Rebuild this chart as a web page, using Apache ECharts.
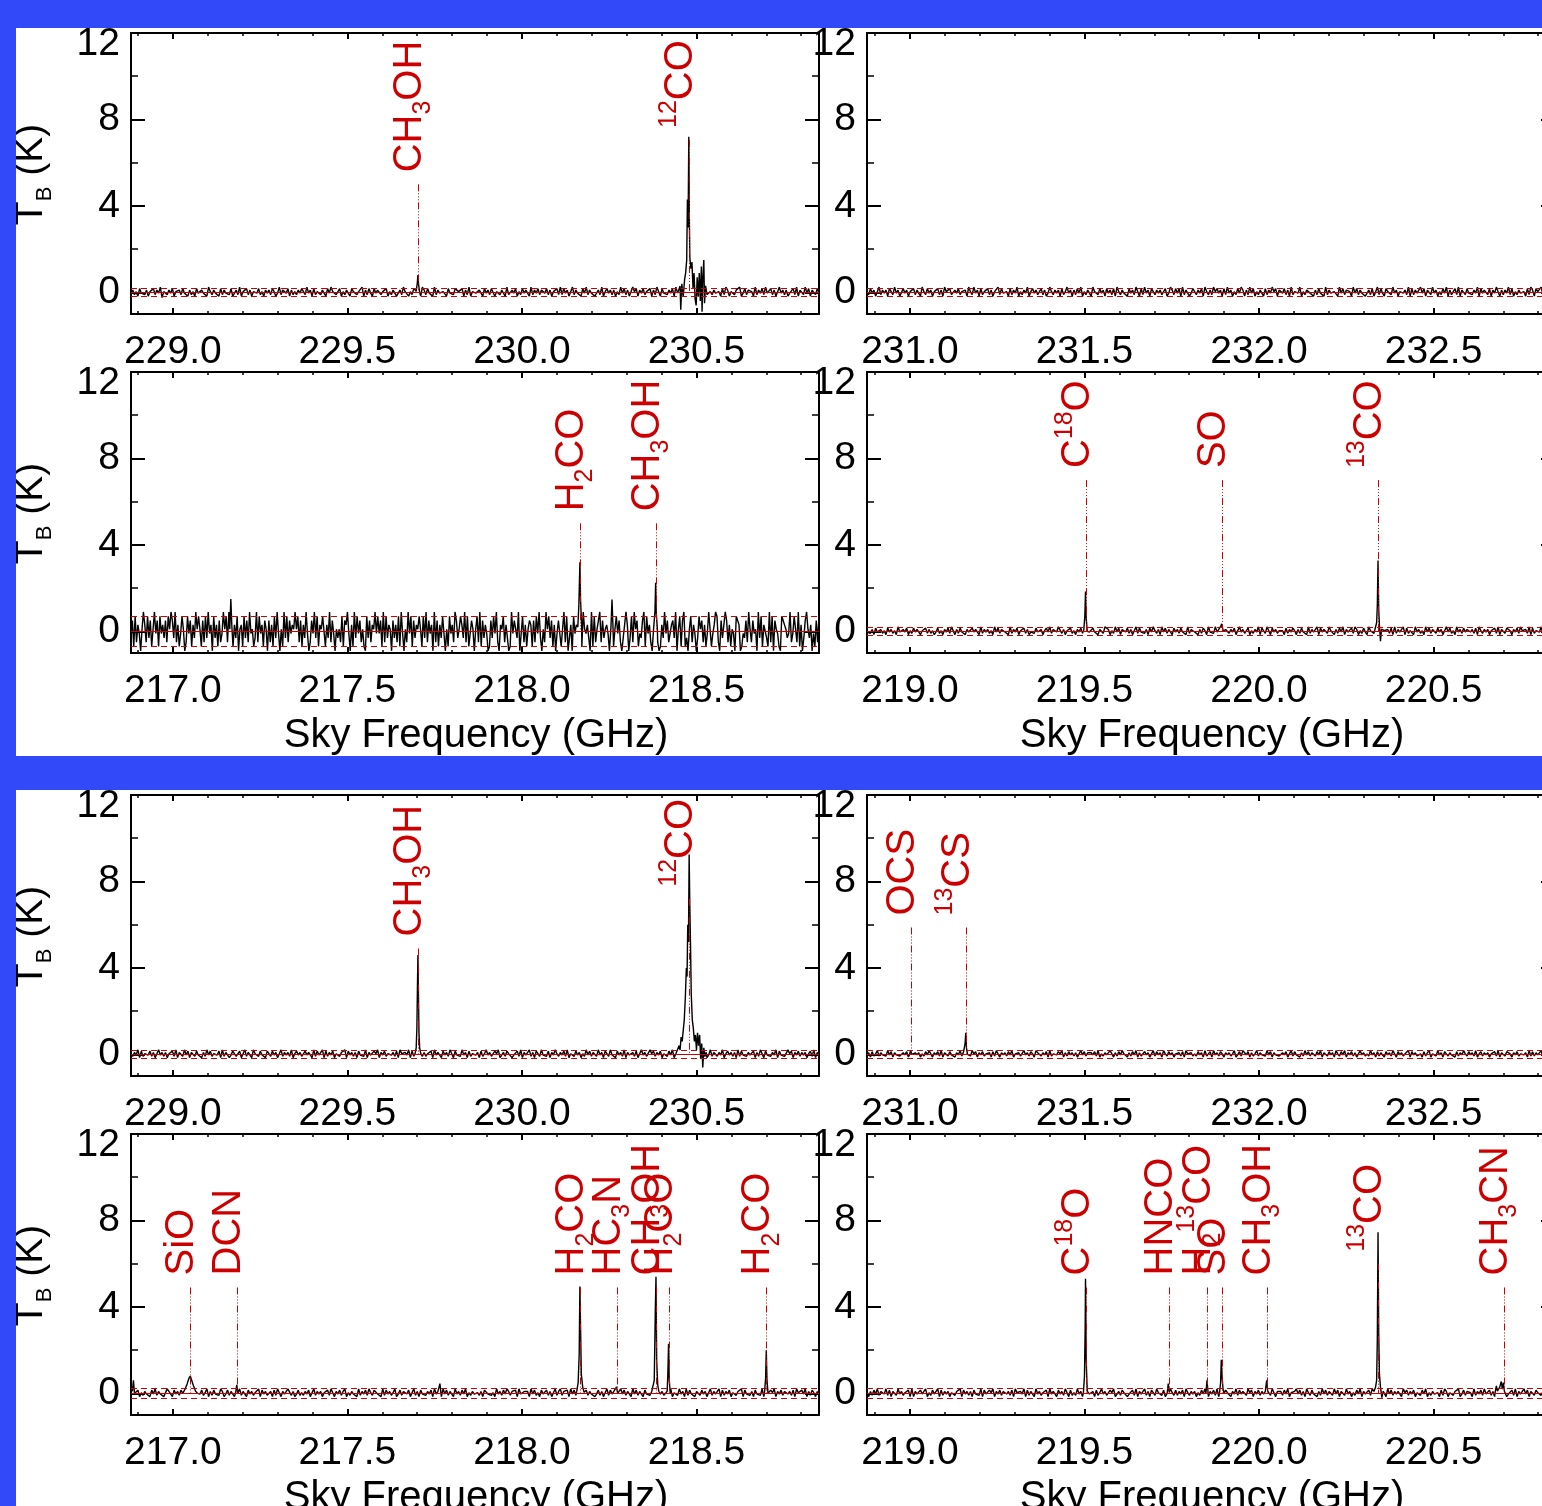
<!DOCTYPE html>
<html><head><meta charset="utf-8">
<script src="https://cdn.jsdelivr.net/npm/echarts@6/dist/echarts.min.js"></script>
<style>html,body{margin:0;padding:0;background:#fff}#c{width:1542px;height:1506px}</style>
</head><body><div id="c"></div>
<script>
// ---------------- DATA ----------------
// spectral windows (GHz): start of each window, common span
const windowStart = [228.880, 230.877, 216.880, 218.877];
const windowSpan = 1.971;
// panel order: A-229, A-231, A-217, A-219, B-229, B-231, B-217, B-219
const panelWindow = [0, 1, 2, 3, 0, 1, 2, 3];
const yRange = [-1, 12];

// baseline noise, one digit per channel (value = (digit-4.5)*noiseScale)
const noiseA229 = "4635274536254736481553647254637452635274364528536452736453724638254736256473526463752483654726353647538462735436527485634725364275635482637427465354725367246385425376452863745283643562745376547263825443652746377254365283364725374652836473654736254738" +
  "374625836452748364524638257463625384736238572647354726385274536472845328463752646374825364452738625436582473655283647384473625846362457382653847265374";
const noiseA231 = "5374625836462753846237462547366285374625473628547326473546285384627354736254837445273648253648257463573624853646273584626374825364285637462746372853645274638527384627536463572486374728365247536472853638574627384625374862638472536427364857265473628354" +
  "482536745263745283643562847365528473645246372583742756384625546382736438472653846253748263473826537453648274653726485263648372536445273862755836274654";
const noiseA217 = "3718264059628371594718463728597392614850284716395851728394608361724958294716380561837294513928461750726183940519382746595827163940274938165881639274053528176940619384725108372659484719283650736281940529481736585183927460927163840518462973586392814750" +
  "5829173640173849206582630194753904826157617284930529583716047415928036084627319546309182579273564018158472036960382957143791846205852016394724673905817913058264038572614951469820733972615408860143729527450938166319280754108765349248529160379536041728";
const noiseA219 = "4536274563527463528436472537466254736352473526473852637452643746528364635284736545283647255736245374362574836548736254735264738264374526538762538472654736258374536274853628473652746374528365452637528453846273653647258463472536482763852746354527364752" +
  "637452836438274653855263748264473862537428563748255463728364482735628463528473653746258473528463746546372853646254738265378526473854638273564826375264";
const noiseB229 = "5364827354473625846362547382653847265374526384735647283652476347258364285637452753746258364638257463374652837458273647254365827463627453826437582647355463728546482736528363547284652746385274538462735446273584633758246375624573826448362753845372648536" +
  "473825637462538473653846275384527463826446372584632857364725637482536345283762545736248365364825746362837453644726385274536482745338572647364625738264";
const noiseB231 = "4627358364538472645336472853646253748526473826537452648374653857264735462738526463748254632846375286536472835447582637463625847365647382536448526374855263748263374625837462853746254637285463537462835728463752646358247386472635836453847264533647258374" +
  "526384736537482653746285374826473625846353846273652746385274635482746345273682543846275364527364853746382573646254738265378526473554628373644827365284";
const noiseB217 = "8463725364527483645238652746376247358264473582637453862473652748365274635482746346273852645873624735364725836462547385264736825364528364738537645283746358247365472583627453647284632847365284637482536445362784535284637486365728436562847352744736258368" +
  "365728473652847364524736258374625384736528473652745364728463473825638462837452653746258364582736472543658274536274538264375826473654637285474826375263";
const noiseB219 = "5263748365483726538463547282643746825374582736462543658274636274538274375826473654637285464827365284635472846627463852735384627354462735846337582463756245738264483627538553726485373647285364625374852647382653755264837465385726473646273852656374825468" +
  "473628537452638473653847265384625374826447386253745284736465285736472563748253644527386254365824736552836473844736258463624573826438472653755364728455";
const noiseScale = [0.07, 0.07, 0.20, 0.06, 0.06, 0.05, 0.06, 0.06];
const rmsLevel = [0.18, 0.18, 0.68, 0.20, 0.20, 0.18, 0.22, 0.22];

// emission lines: explicit [GHz, K] points
const peaksA229 = [
  [[229.697,0.05],[229.700,0.4],[229.702,0.8],[229.704,0.35],[229.707,0.0]],
  [[230.450,0.0],[230.453,0.3],[230.455,-0.8],[230.458,0.4],[230.462,-0.2],[230.466,0.6],[230.469,0.9],[230.472,1.5],[230.474,4.3],[230.476,3.0],[230.478,7.2],[230.4795,3.5],[230.481,1.6],[230.484,1.1],[230.487,1.4],[230.490,0.2],[230.493,0.9],[230.496,-0.3],[230.499,-0.6],[230.502,0.7],[230.505,-0.2],[230.508,0.9],[230.511,-0.4],[230.514,1.2],[230.516,-0.9],[230.518,0.6],[230.521,1.5],[230.523,-0.5],[230.526,0.3],[230.530,-0.1]]
];
const peaksA231 = [];
const peaksA217 = [
  [[217.163,0.1],[217.166,1.5],[217.169,0.2]],
  [[218.160,0.2],[218.163,1.2],[218.166,3.2],[218.168,1.4],[218.171,0.3]],
  [[218.255,0.2],[218.258,1.47],[218.261,0.1]],
  [[218.378,0.1],[218.381,0.9],[218.383,2.25],[218.385,0.8],[218.388,0.1]]
];
const peaksA219 = [
  [[219.498,0.05],[219.501,0.7],[219.503,1.85],[219.505,0.6],[219.508,0.0]],
  [[219.888,0.05],[219.891,0.25],[219.893,0.35],[219.895,0.2],[219.898,0.0]],
  [[220.334,-0.1],[220.337,0.4],[220.339,1.2],[220.341,3.28],[220.343,1.0],[220.345,0.3],[220.348,-0.45],[220.351,0.1]]
];
const peaksB229 = [
  [[229.694,0.05],[229.697,0.3],[229.699,1.2],[229.7005,3.0],[229.702,4.6],[229.7035,2.8],[229.705,1.0],[229.707,0.3],[229.710,0.05]],
  [[230.445,0.1],[230.450,0.4],[230.453,0.2],[230.456,0.8],[230.459,0.6],[230.462,1.1],[230.465,1.6],[230.468,2.6],[230.471,4.0],[230.473,3.6],[230.475,6.0],[230.477,5.2],[230.479,9.25],[230.481,6.8],[230.483,5.0],[230.485,2.8],[230.488,1.6],[230.491,1.2],[230.494,0.6],[230.497,0.9],[230.500,0.2],[230.503,1.0],[230.506,0.4],[230.509,0.9],[230.512,-0.2],[230.515,0.5],[230.518,-0.6],[230.521,0.3],[230.524,-0.1],[230.528,0.1]]
];
const peaksB231 = [
  [[230.999,0.0],[231.002,0.2],[231.005,0.0]],
  [[231.156,0.05],[231.158,0.5],[231.160,1.0],[231.162,0.3],[231.165,0.0]]
];
const peaksB217 = [
  [[216.884,0.1],[216.887,0.6],[216.890,0.0]],
  [[217.028,0.0],[217.035,0.2],[217.041,0.45],[217.046,0.7],[217.050,0.8],[217.054,0.6],[217.059,0.35],[217.065,0.1],[217.071,0.0]],
  [[217.180,0.05],[217.183,0.4],[217.186,0.0]],
  [[217.762,0.1],[217.765,0.45],[217.768,0.0]],
  [[218.157,0.1],[218.161,0.5],[218.164,1.8],[218.166,4.95],[218.168,3.0],[218.170,0.9],[218.174,0.3],[218.178,0.05]],
  [[218.268,0.05],[218.271,0.3],[218.274,0.0]],
  [[218.376,0.1],[218.379,0.6],[218.382,3.8],[218.384,5.4],[218.386,1.5],[218.389,0.4],[218.392,0.1]],
  [[218.416,0.1],[218.418,0.9],[218.420,2.3],[218.422,0.6],[218.425,0.0]],
  [[218.695,0.05],[218.698,0.7],[218.700,2.0],[218.702,0.6],[218.705,0.0]]
];
const peaksB219 = [
  [[219.497,0.05],[219.500,0.8],[219.502,3.0],[219.503,5.3],[219.505,1.5],[219.508,0.1]],
  [[219.737,0.0],[219.740,0.45],[219.743,0.05]],
  [[219.848,0.0],[219.851,0.6],[219.854,0.05]],
  [[219.887,0.05],[219.890,0.5],[219.892,1.55],[219.894,0.8],[219.897,0.2],[219.900,0.0]],
  [[220.019,0.0],[220.022,0.6],[220.025,0.1]],
  [[220.330,0.0],[220.334,0.3],[220.337,0.6],[220.339,2.5],[220.341,7.45],[220.343,2.8],[220.345,0.9],[220.348,0.3],[220.352,-0.2],[220.356,0.1]],
  [[220.676,0.0],[220.680,0.35],[220.683,0.1],[220.690,0.3],[220.694,0.55],[220.697,0.2],[220.700,0.5],[220.703,0.1]]
];

// line identifications: [GHz, top of marker (K), species]
const idsA229 = [[229.702,5.0,'CH3OH'],[230.479,7.05,'12CO']];
const idsA231 = [];
const idsA217 = [[218.166,5.0,'H2CO'],[218.383,5.0,'CH3OH']];
const idsA219 = [[219.503,7.0,'C18O'],[219.893,7.0,'SO'],[220.341,7.0,'13CO']];
const idsB229 = [[229.702,4.9,'CH3OH'],[230.479,7.2,'12CO']];
const idsB231 = [[231.002,5.87,'OCS'],[231.160,5.87,'13CS']];
const idsB217 = [[217.050,4.9,'SiO'],[217.183,4.9,'DCN'],[218.167,4.9,'H2CO'],[218.271,4.9,'HC3N'],[218.384,4.9,'CH3OH'],[218.420,4.9,'H2CO'],[218.700,4.9,'H2CO']];
const idsB219 = [[219.503,4.9,'C18O'],[219.741,4.9,'HNCO'],[219.852,4.9,'H213CO'],[219.893,4.9,'SO'],[220.023,4.9,'CH3OH'],[220.341,6.0,'13CO'],[220.702,4.9,'CH3CN']];

// species -> rich text (m main, s subscript, u superscript)
const speciesText = {
  'CH3OH':'{m|CH}{s|3}{m|OH}', '12CO':'{u|12}{m|CO}', '13CO':'{u|13}{m|CO}', 'H2CO':'{m|H}{s|2}{m|CO}',
  'C18O':'{m|C}{u|18}{m|O}', 'SO':'{m|SO}', 'OCS':'{m|OCS}', '13CS':'{u|13}{m|CS}', 'SiO':'{m|SiO}',
  'DCN':'{m|DCN}', 'HC3N':'{m|HC}{s|3}{m|N}', 'HNCO':'{m|HNCO}', 'H213CO':'{m|H}{s|2}{u|13}{m|CO}',
  'CH3CN':'{m|CH}{s|3}{m|CN}'
};
const xTitle = 'Sky Frequency (GHz)';

const noiseList = [noiseA229, noiseA231, noiseA217, noiseA219, noiseB229, noiseB231, noiseB217, noiseB219];
const peakList = [peaksA229, peaksA231, peaksA217, peaksA219, peaksB229, peaksB231, peaksB217, peaksB219];
const idList = [idsA229, idsA231, idsA217, idsA219, idsB229, idsB231, idsB217, idsB219];

// ---------------- LAYOUT / STYLE ----------------
const FONT = 'Liberation Sans, Arial, Helvetica, sans-serif';
const RED = '#cc0000';
const BLUE = '#3149f9';
const gridLeft = [131, 867, 131, 867, 131, 867, 131, 867];
const gridTop = [33, 33, 372, 372, 795, 795, 1134, 1134];
const GW = 688, GH = 281;

function buildSpectrum(p) {
  const w = panelWindow[p];
  const x0 = windowStart[w], str = noiseList[p], n = str.length;
  const step = windowSpan / (n - 1);
  const groups = peakList[p];
  const ranges = groups.map(g => [g[0][0], g[g.length - 1][0]]);
  const pts = [];
  for (let i = 0; i < n; i++) {
    const x = x0 + i * step;
    if (ranges.some(r => x >= r[0] - 0.0005 && x <= r[1] + 0.0005)) continue;
    pts.push([x, (parseInt(str[i], 10) - 4.5) * noiseScale[p]]);
  }
  groups.forEach(g => g.forEach(pt => pts.push(pt)));
  pts.sort((a, b) => a[0] - b[0]);
  return pts;
}

const richLab = {
  m: {fontSize: 40, fontFamily: FONT, height: 40, padding: [2, 0, 18, 0], verticalAlign: 'top', fill: RED},
  u: {fontSize: 25, fontFamily: FONT, height: 19, padding: [0, 0, 0, 0], verticalAlign: 'top', fill: RED},
  s: {fontSize: 25, fontFamily: FONT, height: 25, padding: [23, 0, 12, 0], verticalAlign: 'top', fill: RED}
};

const grids = [], xAxes = [], yAxes = [], series = [];
function xFmt(v) { return Math.abs(v * 2 - Math.round(v * 2)) < 1e-6 ? v.toFixed(1) : ''; }
function yFmt(v) {
  const r = Math.round(v);
  if (Math.abs(v - r) > 1e-6 || r % 4 !== 0 || r < 0) return '';
  return r === 12 ? '{t|12}' : String(r);
}
for (let p = 0; p < 8; p++) {
  const w = panelWindow[p];
  const xmin = windowStart[w], xmax = windowStart[w] + windowSpan;
  grids.push({left: gridLeft[p], top: gridTop[p], width: GW, height: GH, containLabel: false, outerBoundsMode: 'none'});
  const baseX = {
    type: 'value', gridIndex: p, min: xmin, max: xmax, splitNumber: 4, minInterval: 0.5, maxInterval: 0.5,
    axisLine: {show: true, onZero: false, lineStyle: {color: '#000', width: 2}},
    axisTick: {show: true, inside: true, length: 6, lineStyle: {color: '#000', width: 2}},
    minorTick: {show: true, splitNumber: 5, length: 3, lineStyle: {color: '#000', width: 1.5}},
    splitLine: {show: false}, minorSplitLine: {show: false}
  };
  xAxes.push(Object.assign({}, baseX, {position: 'bottom',
    axisLabel: {show: true, margin: 19, fontSize: 39, fontFamily: FONT, color: '#000', formatter: xFmt, showMinLabel: true, showMaxLabel: true}}));
  xAxes.push(Object.assign({}, baseX, {position: 'top', axisLabel: {show: false}}));
  const baseY = {
    type: 'value', gridIndex: p, min: yRange[0], max: yRange[1], splitNumber: 3, minInterval: 4, maxInterval: 4,
    axisLine: {show: true, onZero: false, lineStyle: {color: '#000', width: 2}},
    axisTick: {show: true, inside: true, length: 14, lineStyle: {color: '#000', width: 2}},
    minorTick: {show: true, splitNumber: 2, length: 7, lineStyle: {color: '#000', width: 1.5}},
    splitLine: {show: false}, minorSplitLine: {show: false}
  };
  yAxes.push(Object.assign({}, baseY, {position: 'left',
    axisLabel: {show: true, margin: 11, fontSize: 39, fontFamily: FONT, color: '#000', formatter: yFmt,
      rich: {t: {fontSize: 39, fontFamily: FONT, color: '#000', padding: [22, 0, 0, 0]}}}}));
  yAxes.push(Object.assign({}, baseY, {position: 'right', axisLabel: {show: false}}));

  series.push({
    type: 'line', xAxisIndex: 2 * p, yAxisIndex: 2 * p, data: buildSpectrum(p),
    showSymbol: false, symbol: 'none', silent: true, animation: false, z: 2,
    lineStyle: {color: '#000', width: 1.4},
    markLine: {
      silent: true, symbol: ['none', 'none'], animation: false, label: {show: false},
      lineStyle: {color: RED, width: 1.2, type: [6, 4]},
      data: [
        {yAxis: 0, lineStyle: {type: 'solid', color: RED, width: 1.2}},
        {yAxis: rmsLevel[p]},
        {yAxis: -rmsLevel[p]}
      ]
    }
  });
  const ids = idList[p];
  if (ids.length) {
    series.push({
      type: 'custom', xAxisIndex: 2 * p, yAxisIndex: 2 * p, silent: true, animation: false, z: 5, clip: false,
      data: ids.map(d => [d[0], d[1]]),
      renderItem: function (params, api) {
        const f = api.value(0), top = api.value(1);
        const p0 = api.coord([f, 0]);
        const p1 = api.coord([f, top]);
        const lx = Math.round(p0[0]) + 0.5;
        const name = ids[params.dataIndex][2];
        return {
          type: 'group', children: [
            {type: 'line', shape: {x1: lx, y1: p1[1], x2: lx, y2: p0[1]},
              style: {stroke: RED, lineWidth: 1, lineDash: [7, 2, 1, 2, 1, 2, 1, 2]}},
            {type: 'text', x: p1[0], y: p1[1] - 12, rotation: Math.PI / 2,
              style: {text: speciesText[name], rich: richLab, fill: RED, fontSize: 40, fontFamily: FONT,
                align: 'left', verticalAlign: 'middle'}}
          ]
        };
      }
    });
  }
}

// axis titles and frame
const graphics = [];
const richY = {
  a: {fontSize: 39, fontFamily: FONT, height: 39, padding: [0, 0, 12, 0], verticalAlign: 'top', fill: '#000'},
  b: {fontSize: 22, fontFamily: FONT, height: 22, padding: [22, 0, 7, 0], verticalAlign: 'top', fill: '#000'}
};
[0, 2, 4, 6].forEach(p => {
  graphics.push({type: 'text', x: 37, y: gridTop[p] + GH / 2 + 1, rotation: Math.PI / 2, z: 10,
    style: {text: '{a|T}{b|B}{a| (K)}', rich: richY, fill: '#000', align: 'center', verticalAlign: 'middle'}});
});
[2, 3, 6, 7].forEach(p => {
  graphics.push({type: 'text', x: gridLeft[p] + GW / 2 + 1, y: gridTop[p] + GH + 83, z: 10,
    style: {text: xTitle, fill: '#000', fontSize: 40, fontFamily: FONT, align: 'center', verticalAlign: 'middle'}});
});
graphics.push({type: 'rect', z: 100, shape: {x: 0, y: 0, width: 1542, height: 28}, style: {fill: BLUE}});
graphics.push({type: 'rect', z: 100, shape: {x: 0, y: 756, width: 1542, height: 34}, style: {fill: BLUE}});
graphics.push({type: 'rect', z: 100, shape: {x: 0, y: 0, width: 16, height: 1506}, style: {fill: BLUE}});

const chart = echarts.init(document.getElementById('c'), null, {renderer: 'canvas'});
chart.setOption({
  backgroundColor: '#fff', animation: false,
  grid: grids, xAxis: xAxes, yAxis: yAxes, series: series, graphic: graphics
});
</script></body></html>
